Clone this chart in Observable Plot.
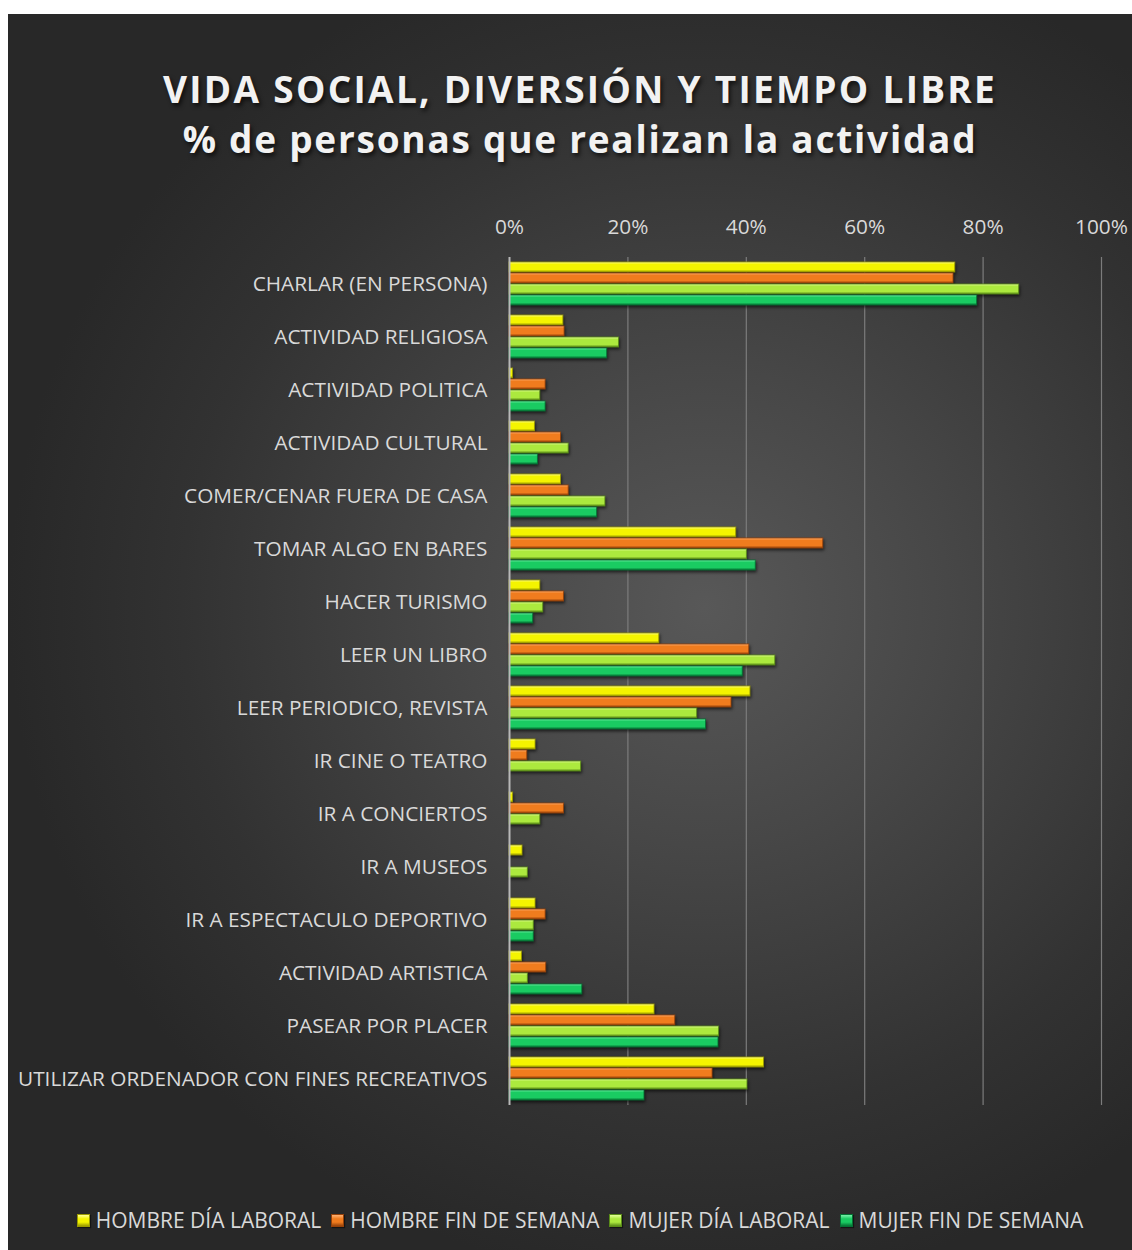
<!DOCTYPE html>
<html>
<head>
<meta charset="utf-8">
<script src="https://cdn.jsdelivr.net/npm/d3@7"></script>
<script src="https://cdn.jsdelivr.net/npm/@observablehq/plot@0.6"></script>
<style>
  html, body { margin: 0; padding: 0; background: #ffffff; }
  #chart {
    position: absolute; left: 8px; top: 14px; width: 1124px; height: 1236px;
    background: radial-gradient(ellipse 62% 55% at 62% 48%, #585858 0%, #474747 35%, #323232 75%, #282828 100%);
    font-family: "Open Sans", sans-serif; overflow: hidden;
  }
  .title {
    position: absolute; left: 10px; width: 1124px; text-align: center;
    color: #f2f2f2; font-weight: 700; font-size: 37px;
    text-shadow: 2px 3px 4px rgba(0,0,0,0.65);
  }
  #plotwrap { position: absolute; left: 0; top: 176px; }
  #legend {
    position: absolute; left: 10px; width: 1124px; top: 1192px; display: flex;
    justify-content: center; align-items: center; gap: 10px;
    color: #d9d9d9; font-size: 21px;
  }
  .item { display: flex; align-items: center; gap: 6px; }
  .sw { width: 13px; height: 13px; box-shadow: 1px 1px 1px rgba(0,0,0,0.5); }
  svg g[aria-label="bar"] rect { filter: drop-shadow(1px 2px 1.5px rgba(0,0,0,0.6)); }
</style>
</head>
<body>
<div id="chart">
  <div class="title" style="top:49px; letter-spacing:2.3px">VIDA SOCIAL, DIVERSIÓN Y TIEMPO LIBRE</div>
  <div class="title" style="top:99px; letter-spacing:1.75px">% de personas que realizan la actividad</div>
  <div id="plotwrap"></div>
  <div id="legend"></div>
</div>
<script>
const categories = [
  "CHARLAR (EN PERSONA)", "ACTIVIDAD RELIGIOSA", "ACTIVIDAD POLITICA", "ACTIVIDAD CULTURAL",
  "COMER/CENAR FUERA DE CASA", "TOMAR ALGO EN BARES", "HACER TURISMO", "LEER UN LIBRO",
  "LEER PERIODICO, REVISTA", "IR CINE O TEATRO", "IR A CONCIERTOS", "IR A MUSEOS",
  "IR A ESPECTACULO DEPORTIVO", "ACTIVIDAD ARTISTICA", "PASEAR POR PLACER",
  "UTILIZAR ORDENADOR CON FINES RECREATIVOS"
];
const seriesNames = ["HOMBRE DÍA LABORAL", "HOMBRE FIN DE SEMANA", "MUJER DÍA LABORAL", "MUJER FIN DE SEMANA"];
const hombreLaboral = [75.3, 9.1, 0.6, 4.3, 8.7, 38.3, 5.2, 25.3, 40.7, 4.4, 0.6, 2.2, 4.4, 2.1, 24.5, 43.0];
const hombreFinde   = [75.0, 9.3, 6.1, 8.7, 10.0, 53.0, 9.2, 40.5, 37.5, 3.0, 9.2, 0, 6.1, 6.2, 28.0, 34.3];
const mujerLaboral  = [86.1, 18.5, 5.2, 10.0, 16.2, 40.1, 5.7, 44.9, 31.7, 12.1, 5.2, 3.1, 4.1, 3.1, 35.4, 40.2];
const mujerFinde    = [79.0, 16.5, 6.1, 4.8, 14.8, 41.6, 4.0, 39.4, 33.2, 0, 0, 0, 4.1, 12.3, 35.3, 22.8];
const xTicks = [0, 20, 40, 60, 80, 100];

// colour ramps per series: [light, base, dark]
const ramps = [
  ["#ffff9a", "#f4f400", "#9a9a00"],
  ["#ffb274", "#f07c1e", "#96420a"],
  ["#e4ff9a", "#ace93e", "#5a8c18"],
  ["#78f2aa", "#1acb62", "#057234"]
];

const allSeries = [hombreLaboral, hombreFinde, mujerLaboral, mujerFinde];
const table = [];
categories.forEach((c, i) => {
  allSeries.forEach((s, j) => {
    table.push({cat: c, series: seriesNames[j], value: s[i], fill: `url(#grad${j})`, dark: ramps[j][2]});
  });
});

const plot = Plot.plot({
  width: 1124,
  height: 940,
  marginLeft: 501,
  marginRight: 31,
  marginTop: 63,
  marginBottom: 21,
  style: {background: "transparent", color: "#d9d9d9", fontFamily: "Open Sans", fontSize: "20.8px"},
  facet: {data: table, y: "cat"},
  fy: {domain: categories, padding: 0, label: null, axis: "left", tickSize: 0, tickPadding: 22},
  y: {domain: seriesNames, paddingInner: 0.1, paddingOuter: 0.45, axis: null},
  x: {domain: [0, 100], ticks: xTicks, tickFormat: d => d + "%", axis: "top", label: null, tickSize: 0, tickPadding: 24},
  color: {type: "identity"},
  marks: [
    Plot.ruleX(xTicks.slice(1), {stroke: "#7c7c7c", strokeWidth: 1.2}),
    Plot.barX(table, {x: "value", y: "series", fill: "fill", stroke: "dark", strokeWidth: 1, strokeOpacity: 0.85}),
    Plot.ruleX([0], {stroke: "#b8b8b8", strokeWidth: 2})
  ]
});

const defs = ramps.map((r, j) => `
  <linearGradient id="grad${j}" x1="0" y1="0" x2="0" y2="1">
    <stop offset="0" stop-color="${r[0]}"/>
    <stop offset="0.22" stop-color="${r[1]}"/>
    <stop offset="0.75" stop-color="${r[1]}"/>
    <stop offset="1" stop-color="${r[2]}"/>
  </linearGradient>`).join("");
plot.insertAdjacentHTML("afterbegin", `<defs>${defs}</defs>`);
document.getElementById("plotwrap").appendChild(plot);

const legend = document.getElementById("legend");
seriesNames.forEach((name, j) => {
  const r = ramps[j];
  const item = document.createElement("div");
  item.className = "item";
  item.innerHTML = `<div class="sw" style="background: linear-gradient(${r[0]}, ${r[1]} 35%, ${r[1]} 65%, ${r[2]}); border:1px solid ${r[2]}; box-sizing:border-box"></div><span>${name}</span>`;
  legend.appendChild(item);
});
</script>
</body>
</html>
